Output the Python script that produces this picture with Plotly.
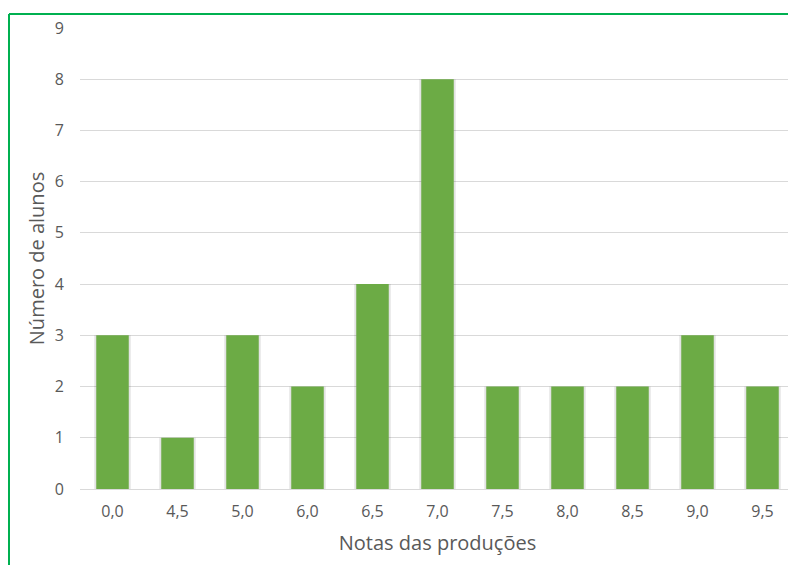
import plotly.graph_objects as go

notas = ['0,0', '4,5', '5,0', '6,0', '6,5', '7,0', '7,5', '8,0', '8,5', '9,0', '9,5']
alunos = [3, 1, 3, 2, 4, 8, 2, 2, 2, 3, 2]
y_ticks = list(range(0, 10))

fig = go.Figure()

# soft shadow behind bars
fig.add_trace(go.Bar(x=notas, y=alunos, width=0.56,
                     marker=dict(color='rgba(0,0,0,0.11)', line=dict(width=0)),
                     hoverinfo='skip', showlegend=False))
fig.add_trace(go.Bar(x=notas, y=alunos, width=0.5,
                     marker=dict(color='#6cab45', line=dict(width=0)),
                     showlegend=False))

# the page is drawn with an 8px body margin, so size and margins are shifted by it
fig.update_layout(
    width=788, height=557,
    margin=dict(l=72, r=1, t=20, b=76),
    plot_bgcolor='white', paper_bgcolor='white',
    barmode='overlay',
    font=dict(family='Open Sans, Noto Sans, sans-serif', color='#595959'),
    xaxis=dict(title=dict(text='Notas das produções', font=dict(size=20), standoff=14),
               tickfont=dict(size=16), showline=True, linecolor='#d9d9d9',
               linewidth=1, ticks='outside', ticklen=8, tickcolor='white',
               showgrid=False),
    yaxis=dict(title=dict(text='Número de alunos', font=dict(size=20), standoff=4),
               range=[0, 9], tickvals=y_ticks, tickfont=dict(size=16),
               gridcolor='#d9d9d9', gridwidth=1, zeroline=False,
               ticks='outside', ticklen=12, tickcolor='white'),
    shapes=[
        dict(type='line', xref='paper', yref='paper', x0=-0.0993, x1=1.02,
             y0=1.0304, y1=1.0304, line=dict(color='#00b050', width=2)),
        dict(type='line', xref='paper', yref='paper', x0=-0.0993, x1=-0.0993,
             y0=1.0304, y1=-0.2, line=dict(color='#00b050', width=2)),
    ],
)

fig.write_html("out.html")
